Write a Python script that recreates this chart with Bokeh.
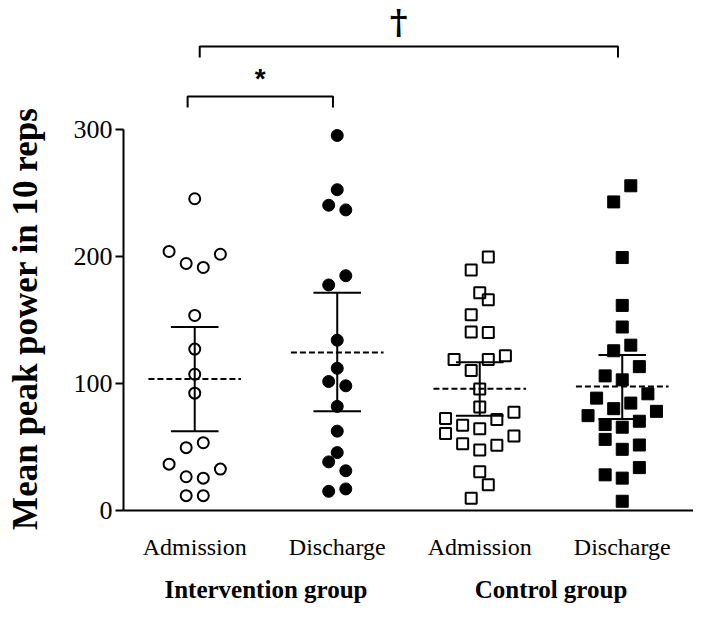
import math
from bokeh.plotting import figure
from bokeh.models import Range1d, FixedTicker
from bokeh.embed import file_html
from bokeh.resources import INLINE
from bokeh.core.properties import value

# ---- data ----
phases = ["Admission", "Discharge", "Admission", "Discharge"]
group_names = ["Intervention group", "Control group"]

int_adm = [245.5, 204, 194.5, 191.4, 201.8, 153.6, 127.1, 107.3, 92.4, 49.5, 53.4,
           36.5, 32.6, 26.6, 25.5, 11.7, 11.7]
int_dis = [295.3, 252.6, 240.4, 236.7, 184.9, 177.6, 134.1, 112, 101.6, 98.2, 82,
           62.5, 45.6, 38.3, 31.3, 15.1, 17]
ctl_adm = [199.7, 189.3, 171.4, 165.9, 154.2, 140.6, 140.1, 119, 119, 121.9, 110.2,
           95.6, 81.5, 72.4, 67.2, 64.3, 71.6, 77.3, 60.7, 58.6, 52.6, 47.7, 51.3,
           30.5, 20.3, 9.6]
ctl_dis = [255.7, 243, 199.2, 161.5, 144.5, 125.8, 130.2, 113.3, 106, 102.9, 88.5,
           91.9, 80.2, 84.6, 74.7, 78.1, 67.7, 65.6, 70.3, 56, 48.2, 51.6, 28.1,
           25.5, 33.8, 7.3]

means = [103.6, 124.5, 95.8, 97.7]
ci_low = [62.5, 78.1, 74.7, 72.1]
ci_high = [144.5, 171.4, 116.7, 122.4]

y_ticks = [0, 100, 200, 300]
y_title = "Mean peak power in 10 reps"

# horizontal scatter offsets of the swarm (layout, category units)
off_int_adm = [0, -0.18, -0.06, 0.06, 0.18, 0, 0, 0, 0, -0.06, 0.06, -0.18, 0.18,
               -0.06, 0.06, -0.06, 0.06]
off_int_dis = [0, 0, -0.06, 0.06, 0.06, -0.06, 0, 0, -0.06, 0.06, 0, 0, 0, -0.06,
               0.06, -0.06, 0.06]
off_ctl_adm = [0.06, -0.06, 0, 0.06, -0.06, -0.06, 0.06, -0.18, 0.06, 0.18, -0.06,
               0, 0, -0.24, -0.12, 0, 0.12, 0.24, -0.24, 0.24, -0.12, 0, 0.12, 0,
               0.06, -0.06]
off_ctl_dis = [0.06, -0.06, 0, 0, 0, -0.06, 0.06, 0.12, -0.12, 0, -0.18, 0.18,
               -0.06, 0.06, -0.24, 0.24, -0.12, 0, 0.12, -0.12, 0, 0.12, -0.12, 0,
               0.12, 0]

cats = list(range(len(phases)))          # category positions 0..3

p = figure(width=693, height=604,
           x_range=Range1d(-1.363, 3.5), y_range=Range1d(-74.0, 401.6),
           output_backend="svg", toolbar_location=None,
           min_border_left=0, min_border_right=0, min_border_top=0,
           min_border_bottom=0)
p.outline_line_color = None
p.grid.visible = False
p.background_fill_color = "white"
p.border_fill_color = "white"

FONT = "Liberation Serif"

# y axis, drawn at the left edge of the category area
p.yaxis.fixed_location = -0.5
p.yaxis.ticker = FixedTicker(ticks=y_ticks)
p.yaxis.bounds = (0, 300)
p.yaxis.major_tick_in = 0
p.yaxis.major_tick_out = 8
p.yaxis.minor_tick_line_color = None
p.yaxis.axis_line_width = 2
p.yaxis.major_tick_line_width = 2
p.yaxis.major_label_text_font = FONT
p.yaxis.major_label_text_font_size = "26px"
p.yaxis.major_label_text_color = "black"
p.yaxis.major_label_standoff = 3

# x axis (phase labels), drawn at y = 0
p.xaxis.fixed_location = 0
p.xaxis.ticker = FixedTicker(ticks=cats)
p.xaxis.major_label_overrides = {c: ph for c, ph in zip(cats, phases)}
p.xaxis.bounds = (-0.5, 3.5)
p.xaxis.axis_line_width = 2
p.xaxis.major_tick_line_color = None
p.xaxis.minor_tick_line_color = None
p.xaxis.major_tick_out = 0
p.xaxis.major_tick_in = 0
p.xaxis.major_label_text_font = FONT
p.xaxis.major_label_text_font_size = "24px"
p.xaxis.major_label_text_color = "black"
p.xaxis.major_label_standoff = 23

# group labels
p.text(x=[0.5, 2.5], y=[-62.5, -62.5], text=group_names,
       text_font=value(FONT), text_font_size="25px", text_font_style="bold",
       text_align="center", text_baseline="middle", text_color="black")

# y title
p.text(x=[-1.188], y=[151], text=[y_title], angle=math.pi / 2,
       text_font=value(FONT), text_font_size="35px", text_font_style="bold",
       text_align="center", text_baseline="middle", text_color="black")

def xs(i, offs):
    return [cats[i] + o for o in offs]

# points
p.scatter(xs(0, off_int_adm), int_adm, marker="circle", size=11, line_color="black",
          line_width=2, fill_alpha=0)
p.scatter(xs(1, off_int_dis), int_dis, marker="circle", size=12, line_color="black",
          fill_color="black")
p.scatter(xs(2, off_ctl_adm), ctl_adm, marker="square", size=11, line_color="black",
          line_width=2, fill_alpha=0)
p.scatter(xs(3, off_ctl_dis), ctl_dis, marker="square", size=12, line_color="black",
          fill_color="black")

# mean (dashed) and 95% CI bars
p.segment(x0=[c - 0.325 for c in cats], y0=means, x1=[c + 0.325 for c in cats],
          y1=means, line_color="black", line_width=2, line_dash="6 3")
p.segment(x0=cats, y0=ci_low, x1=cats, y1=ci_high, line_color="black", line_width=2)
p.segment(x0=[c - 0.167 for c in cats], y0=ci_low, x1=[c + 0.167 for c in cats],
          y1=ci_low, line_color="black", line_width=2)
p.segment(x0=[c - 0.167 for c in cats], y0=ci_high, x1=[c + 0.167 for c in cats],
          y1=ci_high, line_color="black", line_width=2)

# significance brackets
def bracket(xa, xb, ytop, ybot):
    p.multi_line(xs=[[xa, xa, xb, xb]], ys=[[ybot, ytop, ytop, ybot]],
                 line_color="black", line_width=2)

bracket(cats[0] - 0.05, cats[1] - 0.03, 326, 317.3)
bracket(cats[0] + 0.035, cats[3] - 0.03, 365.4, 356.7)

p.text(x=[cats[0] + 0.46], y=[340], text=["*"],
       text_font=value("Liberation Sans"), text_font_style="bold",
       text_font_size="28px", text_align="center", text_baseline="middle",
       text_color="black")
p.text(x=[cats[1] + 0.43], y=[369], text=["†"],
       text_font=value("DejaVu Serif"), text_font_style="bold",
       text_font_size="34px", text_align="center",
       text_baseline="bottom", text_color="black")

open("out.html", "w").write(file_html(p, INLINE))
